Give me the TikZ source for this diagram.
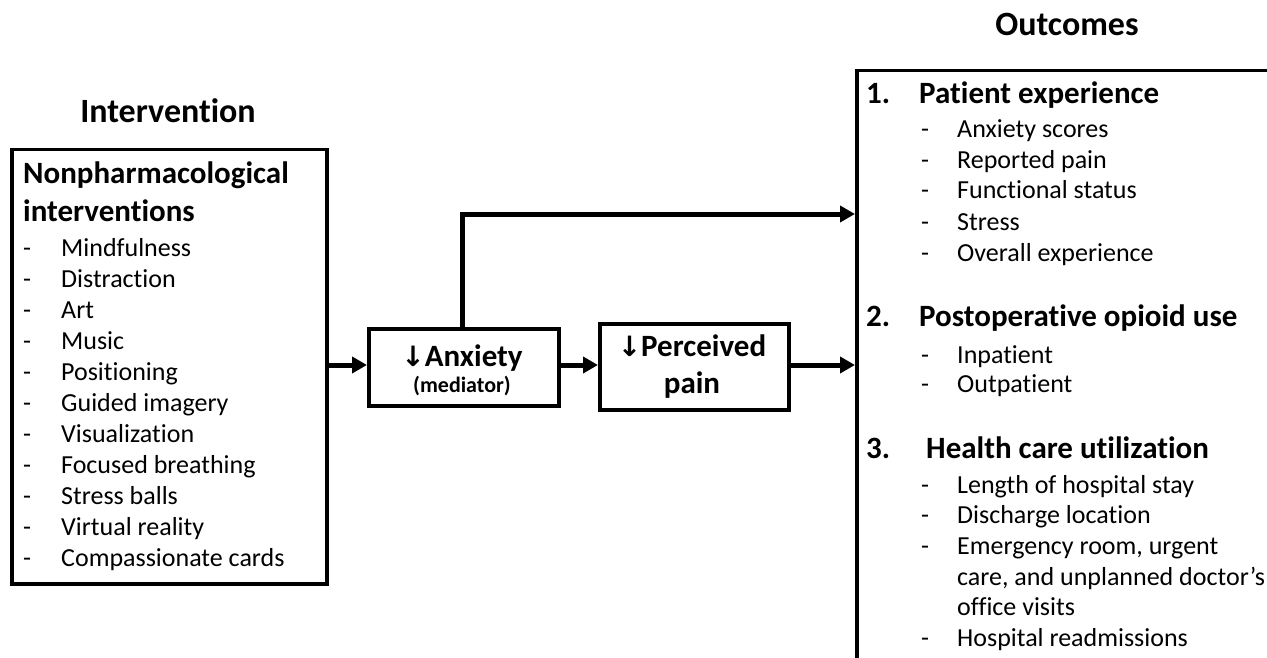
\documentclass[tikz,border=0pt]{standalone}
\usepackage{fontspec}
\setmainfont{Carlito}[Ligatures={NoCommon,NoRare,NoContextual}]
\newfontfamily\symfont{DejaVu Sans}
\usetikzlibrary{arrows.meta}
\tikzset{
  box/.style={draw=black, line width=3.5pt, inner sep=0pt, anchor=north west},
  conn/.style={line width=5pt, -{Triangle[length=15pt,width=16pt]}},
  title/.style={anchor=base, inner sep=0pt, font=\fontsize{34}{38}\selectfont\bfseries},
  head/.style={anchor=base west, inner sep=0pt, font=\fontsize{31}{34}\selectfont\bfseries},
  item/.style={anchor=base west, inner sep=0pt, font=\fontsize{26}{30}\selectfont},
  mid/.style={anchor=base, inner sep=0pt, font=\fontsize{31}{34}\selectfont\bfseries},
}
\newcommand{\dn}{{\symfont\fontsize{28}{30}\selectfont\char"2193}}
\begin{document}
\begin{tikzpicture}[x=1pt,y=-1pt]
\clip (0,0) rectangle (1267,658);
\fill[white] (0,0) rectangle (1267,658);
% boxes
\node[box, minimum width=315pt, minimum height=434pt] (left) at (10,148) {};
\node[box, minimum width=190pt, minimum height=77pt] (anx) at (367,327) {};
\node[box, minimum width=189pt, minimum height=86pt] (pain) at (598,322) {};
\node[box, minimum width=460pt, minimum height=640pt] (out) at (855,69) {};
% titles
\node[title] (t1) at (168,123) {Intervention};
\node[title] (t2) at (1067,36) {Outcomes};
% left box text
\node[head] (h1) at (23,184) {Nonpharmacological};
\node[head] (h2) at (23,221) {interventions};
\foreach \y/\t [count=\i] in {256/Mindfulness,287/Distraction,318/Art,349/Music,380/Positioning,411/Guided imagery,442/Visualization,473/Focused breathing,504/Stress balls,535/Virtual reality,566/Compassionate cards}{
  \node[item] (ld\i) at (23,\y) {-};
  \node[item] (li\i) at (61,\y) {\t};
}
% middle boxes text
\node[mid] (a1) at (462,366) {\dn Anxiety};
\node[anchor=base, inner sep=0pt, font=\fontsize{22}{24}\selectfont\bfseries] (a2) at (462,392) {(mediator)};
\node[mid] (p1) at (692,356) {\dn Perceived};
\node[mid] (p2) at (692,393) {pain};
% outcomes text
\node[head] (n1) at (866,104) {1.};
\node[head] (o1) at (919,104) {Patient experience};
\foreach \y/\t [count=\i] in {138/Anxiety scores,168/Reported pain,199/Functional status,230/Stress,261/Overall experience}{
  \node[item] (od\i) at (921,\y) {-};
  \node[item] (oi\i) at (957,\y) {\t};
}
\node[head] (n2) at (866,326) {2.};
\node[head] (o2) at (919,326) {Postoperative opioid use};
\foreach \y/\t [count=\i] in {363/Inpatient,392/Outpatient}{
  \node[item] (pd\i) at (921,\y) {-};
  \node[item] (pi\i) at (957,\y) {\t};
}
\node[head] (n3) at (866,458) {3.};
\node[head] (o3) at (926,458) {Health care utilization};
\foreach \y/\t [count=\i] in {493/Length of hospital stay,523/Discharge location,554/{Emergency room, urgent},646/Hospital readmissions}{
  \node[item] (hd\i) at (921,\y) {-};
  \node[item] (hi\i) at (957,\y) {\t};
}
\node[item] (hc1) at (957,585) {care, and unplanned doctor’s};
\node[item] (hc2) at (957,615) {office visits};
% connectors
\coordinate (c1) at (462,214);
\draw[conn] (left.east |- 0,365) -- (anx.west |- 0,365);
\draw[conn] (anx.east |- 0,365) -- (pain.west |- 0,365);
\draw[conn] (pain.east |- 0,365) -- (out.west |- 0,365);
\draw[conn] (anx.north -| c1) -- (c1) -- (out.west |- c1);
\end{tikzpicture}
\end{document}
